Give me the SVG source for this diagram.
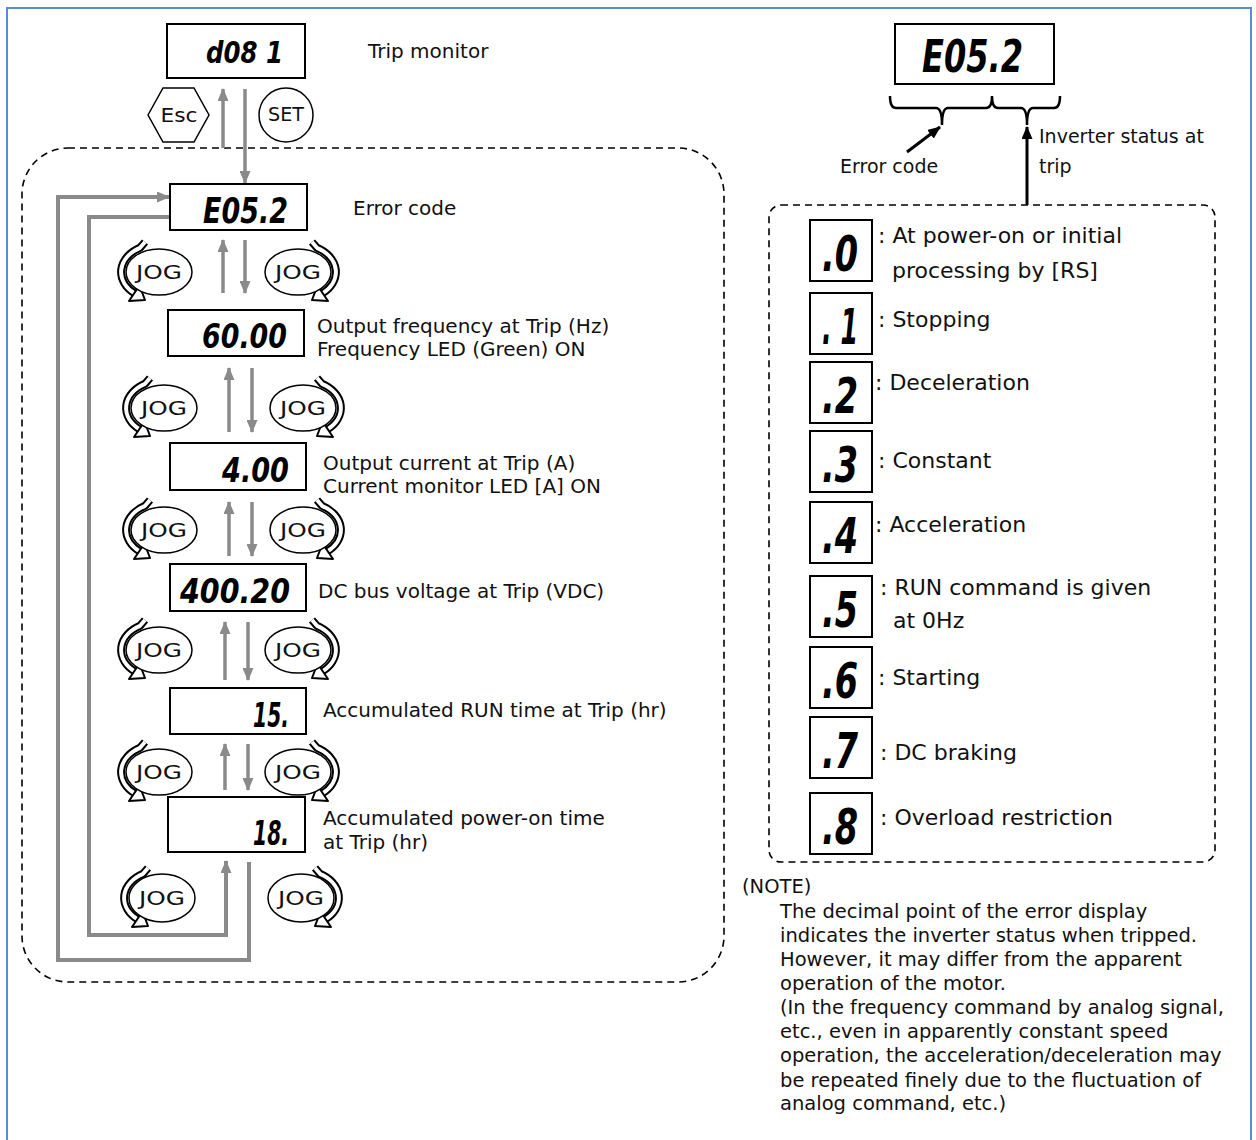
<svg xmlns="http://www.w3.org/2000/svg" xmlns:xlink="http://www.w3.org/1999/xlink" width="1256" height="1140" viewBox="0 0 1256 1140">
<style>
.lbl{font-family:"DejaVu Sans","Noto Sans",sans-serif;font-size:20px;fill:#111}
.sl{font-family:"DejaVu Sans","Noto Sans",sans-serif;font-size:19px;fill:#111}
.rl{font-family:"DejaVu Sans","Noto Sans",sans-serif;font-size:22px;fill:#111}
.note{font-family:"DejaVu Sans","Noto Sans",sans-serif;font-size:19.5px;fill:#111}
.seg{font-family:"DejaVu Sans Condensed","DejaVu Sans",sans-serif;font-weight:bold;font-style:italic;fill:#000}
.disp{fill:#fff;stroke:#000;stroke-width:2}
.btn{fill:#fff;stroke:#000;stroke-width:1.5}
.btxt{font-family:"DejaVu Sans","Noto Sans",sans-serif;font-size:20px;fill:#111;text-anchor:middle}
.ga{fill:none;stroke:#8a8a8a;stroke-width:3.5;marker-end:url(#ga)}
.gla{fill:none;stroke:#8a8a8a;stroke-width:4;marker-end:url(#ga)}
.ba{fill:none;stroke:#000;stroke-width:3;marker-end:url(#ba)}
.dash{fill:none;stroke:#000;stroke-width:1.6;stroke-dasharray:7 5}
</style>
<defs>
<marker id="ga" markerUnits="userSpaceOnUse" markerWidth="13" markerHeight="11" refX="12" refY="5.5" orient="auto"><path d="M0,0 L13,5.5 L0,11 z" fill="#8a8a8a"/></marker>
<marker id="ba" markerUnits="userSpaceOnUse" markerWidth="13" markerHeight="11" refX="12" refY="5.5" orient="auto"><path d="M0,0 L13,5.5 L0,11 z" fill="#000"/></marker>
<g id="jogArrowL">
<path d="M-14,-30 L-19,-24.2 A38,28 0 0 0 -24.4,21.4" fill="none" stroke="#000" stroke-width="8" stroke-linejoin="round"/>
<path d="M-14,-30 L-19,-24.2 A38,28 0 0 0 -24.4,21.4" fill="none" stroke="#fff" stroke-width="4" stroke-linejoin="round"/>
<path d="M-14,28 L-30,29 L-19.5,13.5 z" fill="#fff" stroke="#000" stroke-width="2" stroke-linejoin="round"/>
</g>
<g id="jogArrowR" transform="scale(-1,1)"><use xlink:href="#jogArrowL"/></g>
</defs>

<rect x="7" y="8" width="1244" height="1150" fill="#fff" stroke="#5b8bd0" stroke-width="2"/>

<g id="groups">
<rect id="leftGroup" class="dash" x="22" y="148" width="702" height="834" rx="46" ry="46"/>
<rect id="rightGroup" class="dash" x="769" y="205" width="446" height="657" rx="12" ry="12"/>
</g>

<g id="connectors">
<line class="ga" x1="223" y1="148" x2="223" y2="89"/>
<line class="ga" x1="245" y1="89" x2="245" y2="183"/>
<line class="ga" x1="223" y1="293" x2="223" y2="240"/>
<line class="ga" x1="245" y1="240" x2="245" y2="293"/>
<line class="ga" x1="229" y1="432" x2="229" y2="368"/>
<line class="ga" x1="252" y1="368" x2="252" y2="432"/>
<line class="ga" x1="229" y1="556" x2="229" y2="502"/>
<line class="ga" x1="252" y1="502" x2="252" y2="556"/>
<line class="ga" x1="225" y1="680" x2="225" y2="622"/>
<line class="ga" x1="248" y1="622" x2="248" y2="680"/>
<line class="ga" x1="225" y1="790" x2="225" y2="744"/>
<line class="ga" x1="248" y1="744" x2="248" y2="790"/>
<polyline class="gla" points="170,217 89,217 89,935 226,935 226,861"/>
<polyline class="gla" points="249,862 249,960 58,960 58,197 169,197"/>
<line class="ba" x1="907" y1="152" x2="940" y2="127"/>
<line class="ba" x1="1027" y1="205" x2="1027" y2="127"/>
<path d="M890,96 Q890,108 896,108 L936,108 Q942,108 942,125 Q942,108 948,108 L986,108 Q992,108 992,96 Q992,108 998,108 L1021,108 Q1027,108 1027,125 Q1027,108 1033,108 L1054,108 Q1060,108 1060,96" fill="none" stroke="#000" stroke-width="2.5"/>
</g>

<g id="tripMonitor">
<rect class="disp" x="167" y="24" width="138" height="54"/>
<text class="seg" x="206" y="63" font-size="31" textLength="77" lengthAdjust="spacingAndGlyphs">d08 1</text>
<text class="lbl" x="368" y="58">Trip monitor</text>
</g>

<g id="escKey">
<polygon class="btn" points="148,115 163,88 194,88 209,115 194,142 163,142"/>
<text class="btxt" x="179" y="122" textLength="37" lengthAdjust="spacingAndGlyphs">Esc</text>
</g>
<g id="setKey">
<circle class="btn" cx="286" cy="115" r="27"/>
<text class="btxt" x="286" y="121" font-size="17" textLength="36" lengthAdjust="spacingAndGlyphs">SET</text>
</g>

<g id="errorCode">
<rect class="disp" x="170" y="184" width="137" height="46"/>
<text class="seg" x="203" y="223" font-size="35" textLength="85" lengthAdjust="spacingAndGlyphs">E05.2</text>
<text class="lbl" x="353" y="215">Error code</text>
</g>

<g id="outFreq">
<rect class="disp" x="168" y="310" width="136" height="46"/>
<text class="seg" x="202" y="348" font-size="34" textLength="85" lengthAdjust="spacingAndGlyphs">60.00</text>
<text class="lbl" x="317" y="333">Output frequency at Trip (Hz)</text>
<text class="lbl" x="317" y="356">Frequency LED (Green) ON</text>
</g>

<g id="outCurrent">
<rect class="disp" x="170" y="443" width="136" height="47"/>
<text class="seg" x="222" y="482" font-size="33" textLength="67" lengthAdjust="spacingAndGlyphs">4.00</text>
<text class="lbl" x="323" y="470">Output current at Trip (A)</text>
<text class="lbl" x="323" y="493">Current monitor LED [A] ON</text>
</g>

<g id="dcBus">
<rect class="disp" x="170" y="564" width="136" height="47"/>
<text class="seg" x="180" y="603" font-size="33" textLength="110" lengthAdjust="spacingAndGlyphs">400.20</text>
<text class="lbl" x="318" y="598">DC bus voltage at Trip (VDC)</text>
</g>

<g id="runTime">
<rect class="disp" x="170" y="688" width="136" height="46"/>
<text class="seg" x="253" y="727" font-size="33" textLength="36" lengthAdjust="spacingAndGlyphs">15.</text>
<text class="lbl" x="323" y="717">Accumulated RUN time at Trip (hr)</text>
</g>

<g id="powerOnTime">
<rect class="disp" x="168" y="797" width="137" height="55"/>
<text class="seg" x="253" y="845" font-size="33" textLength="36" lengthAdjust="spacingAndGlyphs">18.</text>
<text class="lbl" x="323" y="825">Accumulated power-on time</text>
<text class="lbl" x="323" y="849">at Trip (hr)</text>
</g>

<g id="jog1L"><use xlink:href="#jogArrowL" x="159" y="272"/><ellipse class="btn" cx="159" cy="272" rx="33" ry="23"/><text class="btxt" x="159" y="279" textLength="46" lengthAdjust="spacingAndGlyphs">JOG</text></g>
<g id="jog1R"><use xlink:href="#jogArrowR" x="298" y="272"/><ellipse class="btn" cx="298" cy="272" rx="33" ry="23"/><text class="btxt" x="298" y="279" textLength="46" lengthAdjust="spacingAndGlyphs">JOG</text></g>
<g id="jog2L"><use xlink:href="#jogArrowL" x="164" y="408"/><ellipse class="btn" cx="164" cy="408" rx="33" ry="23"/><text class="btxt" x="164" y="415" textLength="46" lengthAdjust="spacingAndGlyphs">JOG</text></g>
<g id="jog2R"><use xlink:href="#jogArrowR" x="303" y="408"/><ellipse class="btn" cx="303" cy="408" rx="33" ry="23"/><text class="btxt" x="303" y="415" textLength="46" lengthAdjust="spacingAndGlyphs">JOG</text></g>
<g id="jog3L"><use xlink:href="#jogArrowL" x="164" y="530"/><ellipse class="btn" cx="164" cy="530" rx="33" ry="23"/><text class="btxt" x="164" y="537" textLength="46" lengthAdjust="spacingAndGlyphs">JOG</text></g>
<g id="jog3R"><use xlink:href="#jogArrowR" x="303" y="530"/><ellipse class="btn" cx="303" cy="530" rx="33" ry="23"/><text class="btxt" x="303" y="537" textLength="46" lengthAdjust="spacingAndGlyphs">JOG</text></g>
<g id="jog4L"><use xlink:href="#jogArrowL" x="159" y="650"/><ellipse class="btn" cx="159" cy="650" rx="33" ry="23"/><text class="btxt" x="159" y="657" textLength="46" lengthAdjust="spacingAndGlyphs">JOG</text></g>
<g id="jog4R"><use xlink:href="#jogArrowR" x="298" y="650"/><ellipse class="btn" cx="298" cy="650" rx="33" ry="23"/><text class="btxt" x="298" y="657" textLength="46" lengthAdjust="spacingAndGlyphs">JOG</text></g>
<g id="jog5L"><use xlink:href="#jogArrowL" x="159" y="772"/><ellipse class="btn" cx="159" cy="772" rx="33" ry="23"/><text class="btxt" x="159" y="779" textLength="46" lengthAdjust="spacingAndGlyphs">JOG</text></g>
<g id="jog5R"><use xlink:href="#jogArrowR" x="298" y="772"/><ellipse class="btn" cx="298" cy="772" rx="33" ry="23"/><text class="btxt" x="298" y="779" textLength="46" lengthAdjust="spacingAndGlyphs">JOG</text></g>
<g id="jog6L"><use xlink:href="#jogArrowL" x="162" y="898"/><ellipse class="btn" cx="162" cy="898" rx="33" ry="24"/><text class="btxt" x="162" y="905" textLength="46" lengthAdjust="spacingAndGlyphs">JOG</text></g>
<g id="jog6R"><use xlink:href="#jogArrowR" x="301" y="898"/><ellipse class="btn" cx="301" cy="898" rx="33" ry="24"/><text class="btxt" x="301" y="905" textLength="46" lengthAdjust="spacingAndGlyphs">JOG</text></g>

<g id="errorDisplay">
<rect class="disp" x="895" y="24" width="159" height="60"/>
<text class="seg" x="922" y="72" font-size="44" textLength="101" lengthAdjust="spacingAndGlyphs">E05.2</text>
</g>
<g id="errorCodeLabel"><text class="sl" x="840" y="173">Error code</text></g>
<g id="statusLabel">
<text class="sl" x="1039" y="143">Inverter status at</text>
<text class="sl" x="1039" y="173">trip</text>
</g>

<g id="st0"><rect class="disp" x="810" y="220" width="62" height="61"/><text class="seg" x="822" y="271" font-size="50" textLength="36" lengthAdjust="spacingAndGlyphs">.0</text>
<text class="rl" x="878" y="243">: At power-on or initial</text><text class="rl" x="892" y="278">processing by [RS]</text></g>
<g id="st1"><rect class="disp" x="810" y="293" width="62" height="61"/><text class="seg" x="822" y="344" font-size="50" textLength="36" lengthAdjust="spacingAndGlyphs">. 1</text>
<text class="rl" x="878" y="327">: Stopping</text></g>
<g id="st2"><rect class="disp" x="810" y="362" width="62" height="61"/><text class="seg" x="822" y="413" font-size="50" textLength="36" lengthAdjust="spacingAndGlyphs">.2</text>
<text class="rl" x="875" y="390">: Deceleration</text></g>
<g id="st3"><rect class="disp" x="810" y="431" width="62" height="61"/><text class="seg" x="822" y="482" font-size="50" textLength="36" lengthAdjust="spacingAndGlyphs">.3</text>
<text class="rl" x="878" y="468">: Constant</text></g>
<g id="st4"><rect class="disp" x="810" y="502" width="62" height="61"/><text class="seg" x="822" y="553" font-size="50" textLength="36" lengthAdjust="spacingAndGlyphs">.4</text>
<text class="rl" x="875" y="532">: Acceleration</text></g>
<g id="st5"><rect class="disp" x="810" y="576" width="62" height="61"/><text class="seg" x="822" y="627" font-size="50" textLength="36" lengthAdjust="spacingAndGlyphs">.5</text>
<text class="rl" x="880" y="595">: RUN command is given</text><text class="rl" x="893" y="628">at 0Hz</text></g>
<g id="st6"><rect class="disp" x="810" y="647" width="62" height="61"/><text class="seg" x="822" y="698" font-size="50" textLength="36" lengthAdjust="spacingAndGlyphs">.6</text>
<text class="rl" x="878" y="685">: Starting</text></g>
<g id="st7"><rect class="disp" x="810" y="717" width="62" height="61"/><text class="seg" x="822" y="768" font-size="50" textLength="36" lengthAdjust="spacingAndGlyphs">.7</text>
<text class="rl" x="880" y="760">: DC braking</text></g>
<g id="st8"><rect class="disp" x="810" y="793" width="62" height="61"/><text class="seg" x="822" y="844" font-size="50" textLength="36" lengthAdjust="spacingAndGlyphs">.8</text>
<text class="rl" x="880" y="825">: Overload restriction</text></g>

<g id="note">
<text class="note" x="742" y="893">(NOTE)</text>
<text class="note" x="780" y="918">The decimal point of the error display</text>
<text class="note" x="780" y="942">indicates the inverter status when tripped.</text>
<text class="note" x="780" y="966">However, it may differ from the apparent</text>
<text class="note" x="780" y="990">operation of the motor.</text>
<text class="note" x="780" y="1014">(In the frequency command by analog signal,</text>
<text class="note" x="780" y="1038">etc., even in apparently constant speed</text>
<text class="note" x="780" y="1062">operation, the acceleration/deceleration may</text>
<text class="note" x="780" y="1087">be repeated finely due to the fluctuation of</text>
<text class="note" x="780" y="1110">analog command, etc.)</text>
</g>
</svg>
